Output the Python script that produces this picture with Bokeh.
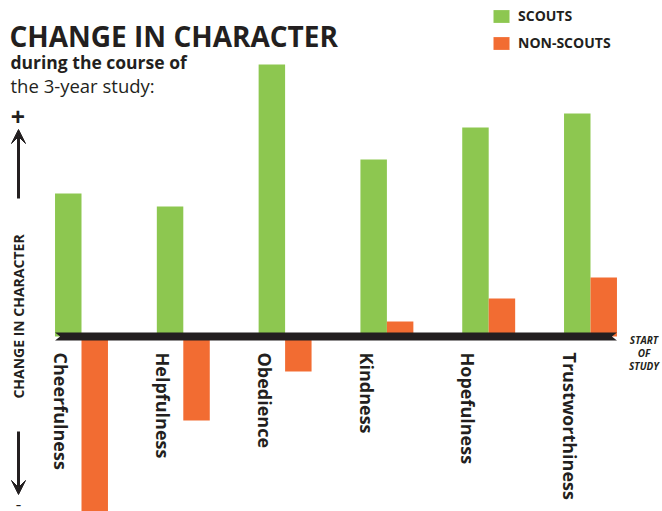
import math
from bokeh.plotting import figure
from bokeh.models import Range1d, Label, Arrow, VeeHead, Legend, LegendItem, ColumnDataSource
from bokeh.core.properties import value
from bokeh.embed import file_html
from bokeh.resources import INLINE

# ---- data ----
categories = ["Cheerfulness", "Helpfulness", "Obedience", "Kindness", "Hopefulness", "Trustworthiness"]
scouts = [14.3, 13.0, 27.2, 17.7, 20.9, 22.3]
non_scouts = [-18.5, -8.4, -3.5, 1.5, 3.8, 5.9]
series_names = ["SCOUTS", "NON-SCOUTS"]

GREEN = "#8dc750"
ORANGE = "#f26c32"
INK = "#231f20"
FONT_NAME = "Open Sans"
FONT = value(FONT_NAME)

W, H = 662, 511
# helpers mapping reference picture pixels to data coordinates (for annotations)
PX_PER_GROUP = 101.8
X0_REF = 81.0
PX_PER_UNIT_Y = 10.0
Y0_REF = 336.0


def X(rx):
    return (rx - X0_REF) / PX_PER_GROUP


def Y(ry):
    return (Y0_REF - ry) / PX_PER_UNIT_Y


p = figure(width=W, height=H,
           x_range=Range1d(X(0), X(W)), y_range=Range1d(Y(H), Y(0)),
           output_backend="svg", toolbar_location=None, min_border=0,
           x_axis_location=None, y_axis_location=None)
p.grid.visible = False
p.outline_line_color = None
p.background_fill_color = "white"

n = len(categories)
idx = list(range(n))
bw = 0.26
src = ColumnDataSource(dict(
    cat=categories,
    xg=[i - bw / 2 for i in idx],
    xo=[i + bw / 2 for i in idx],
    xl=[i - bw / 2 - 0.07 for i in idx],
    scouts=scouts,
    non=non_scouts,
))

g = p.vbar(x="xg", width=bw, top="scouts", bottom=0, source=src,
           fill_color=GREEN, line_color=None)
o = p.vbar(x="xo", width=bw, top="non", bottom=0, source=src,
           fill_color=ORANGE, line_color=None)

# baseline ("start of study") bar with notched ends
xl0, xr0 = -bw, n - 1 + bw
notch, t = 0.05, 0.4
p.patch([xl0, xr0, xr0 - notch, xr0, xl0, xl0 + notch],
        [t, t, 0, -t, -t, 0], fill_color=INK, line_color=None)

# category labels, rotated
p.text(x="xl", y=Y(352), text="cat", source=src, angle=-math.pi / 2,
       text_align="left", text_baseline="middle", text_font=FONT,
       text_font_style="bold", text_font_size="18px", text_color=INK)

# legend
legend = Legend(items=[LegendItem(label=series_names[0], renderers=[g]),
                       LegendItem(label=series_names[1], renderers=[o])],
                location=(491, 459), margin=0, padding=0, spacing=8,
                glyph_width=20, glyph_height=16, label_height=16,
                label_standoff=7, border_line_color=None,
                background_fill_alpha=0,
                label_text_font=FONT_NAME, label_text_font_style="bold",
                label_text_font_size="14px", label_text_color=INK)
p.add_layout(legend)

# titles
p.add_layout(Label(x=X(9), y=Y(35), text="CHANGE IN CHARACTER", text_align="left",
                   text_baseline="alphabetic", text_font=FONT_NAME, text_font_style="bold",
                   text_font_size="28px", text_color=INK))
p.add_layout(Label(x=X(10), y=Y(61), text="during the course of", text_align="left",
                   text_baseline="alphabetic", text_font=FONT_NAME, text_font_style="bold",
                   text_font_size="17.5px", text_color=INK))
p.add_layout(Label(x=X(10), y=Y(85), text="the 3-year study:", text_align="left",
                   text_baseline="alphabetic", text_font=FONT_NAME, text_font_style="normal",
                   text_font_size="18.5px", text_color=INK))

# left vertical indicator
p.add_layout(Label(x=X(17.5), y=Y(116), text="+", text_align="center",
                   text_baseline="middle", text_font=FONT_NAME, text_font_style="bold",
                   text_font_size="25px", text_color=INK))
p.add_layout(Arrow(x_start=X(18), y_start=Y(198), x_end=X(18), y_end=Y(129),
                   line_width=3, line_color=INK,
                   end=VeeHead(size=14, fill_color=INK, line_color=INK)))
p.add_layout(Arrow(x_start=X(18), y_start=Y(431), x_end=X(18), y_end=Y(494),
                   line_width=3, line_color=INK,
                   end=VeeHead(size=14, fill_color=INK, line_color=INK)))
p.add_layout(Label(x=X(18), y=Y(316), text="CHANGE IN CHARACTER", angle=math.pi / 2,
                   text_align="center", text_baseline="middle", text_font=FONT_NAME,
                   text_font_style="bold", text_font_size="14px", text_color=INK))
p.add_layout(Label(x=X(18), y=Y(503), text="\u2013", text_align="center",
                   text_baseline="middle", text_font=FONT_NAME, text_font_style="bold",
                   text_font_size="10px", text_color=INK))

# start of study note
for txt, ry in (("START", 339), ("OF", 352), ("STUDY", 365)):
    p.add_layout(Label(x=X(643.5), y=Y(ry), text=txt, text_align="center",
                       text_baseline="alphabetic", text_font=FONT_NAME,
                       text_font_style="bold italic", text_font_size="10px",
                       text_color=INK))

open("out.html", "w").write(file_html(p, INLINE))
